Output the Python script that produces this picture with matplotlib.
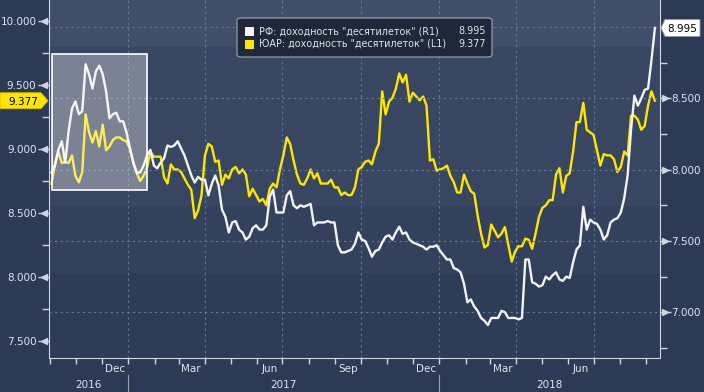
import numpy as np
import pandas as pd
import matplotlib
matplotlib.use("Agg")
import matplotlib.pyplot as plt
import matplotlib.dates as mdates
import matplotlib.ticker as mticker
import matplotlib.transforms as mtransforms
from matplotlib.patches import Rectangle, FancyBboxPatch, Polygon

# 10y yields, every 4 days
dates = pd.date_range("2016-10-03", periods=178, freq="4D")

sa_yield = [
    8.73, 8.88, 8.98, 8.89, 8.90, 8.89, 8.95, 8.79, 8.74, 8.82,
    9.27, 9.13, 9.05, 9.14, 9.02, 9.19, 8.99, 9.02, 9.07, 9.09,
    9.09, 9.07, 9.06, 9.00, 8.89, 8.81, 8.75, 8.79, 8.85, 8.98,
    8.94, 8.94, 8.94, 8.78, 8.73, 8.88, 8.84, 8.84, 8.82, 8.77,
    8.72, 8.68, 8.46, 8.52, 8.64, 8.95, 9.04, 9.02, 8.90, 8.91,
    8.72, 8.80, 8.77, 8.84, 8.86, 8.81, 8.84, 8.80, 8.63, 8.69,
    8.64, 8.59, 8.61, 8.56, 8.69, 8.73, 8.70, 8.84, 8.95, 9.09,
    9.04, 8.91, 8.80, 8.73, 8.72, 8.77, 8.84, 8.77, 8.81, 8.73,
    8.73, 8.73, 8.76, 8.70, 8.70, 8.64, 8.66, 8.64, 8.64, 8.70,
    8.84, 8.86, 8.90, 8.91, 8.88, 8.98, 9.04, 9.45, 9.27, 9.37,
    9.40, 9.47, 9.59, 9.52, 9.58, 9.37, 9.44, 9.41, 9.38, 9.41,
    9.34, 8.91, 8.92, 8.83, 8.84, 8.85, 8.87, 8.79, 8.74, 8.66,
    8.66, 8.80, 8.73, 8.67, 8.65, 8.48, 8.34, 8.23, 8.25, 8.41,
    8.36, 8.31, 8.34, 8.39, 8.25, 8.12, 8.20, 8.24, 8.24, 8.30,
    8.29, 8.22, 8.34, 8.47, 8.54, 8.56, 8.60, 8.60, 8.80, 8.85,
    8.66, 8.79, 8.81, 8.98, 9.21, 9.21, 9.36, 9.15, 9.13, 9.11,
    8.99, 8.87, 8.96, 8.95, 8.95, 8.92, 8.82, 8.86, 8.98, 8.95,
    9.26, 9.26, 9.23, 9.15, 9.18, 9.34, 9.45, 9.377,
]

rf_yield = [
    7.98, 8.03, 8.14, 8.20, 8.05, 8.27, 8.43, 8.48, 8.39, 8.41,
    8.74, 8.67, 8.57, 8.69, 8.73, 8.67, 8.55, 8.36, 8.39, 8.40,
    8.34, 8.34, 8.26, 8.15, 8.05, 7.98, 7.98, 8.03, 8.10, 8.14,
    8.03, 8.01, 8.05, 8.08, 8.17, 8.16, 8.17, 8.20, 8.15, 8.10,
    8.03, 7.96, 7.91, 7.95, 7.93, 7.93, 7.82, 7.90, 7.96, 7.89,
    7.72, 7.67, 7.56, 7.63, 7.64, 7.58, 7.56, 7.51, 7.53, 7.59,
    7.61, 7.58, 7.58, 7.61, 7.81, 7.86, 7.70, 7.70, 7.70, 7.82,
    7.85, 7.75, 7.73, 7.75, 7.74, 7.75, 7.76, 7.61, 7.63, 7.63,
    7.63, 7.64, 7.63, 7.63, 7.47, 7.42, 7.42, 7.43, 7.44, 7.48,
    7.56, 7.51, 7.50, 7.45, 7.39, 7.43, 7.44, 7.49, 7.53, 7.54,
    7.51, 7.56, 7.60, 7.55, 7.56, 7.51, 7.49, 7.48, 7.47, 7.46,
    7.44, 7.46, 7.46, 7.47, 7.43, 7.40, 7.37, 7.37, 7.31, 7.30,
    7.28, 7.20, 7.07, 7.09, 7.04, 7.01, 6.96, 6.94, 6.91, 6.96,
    6.96, 6.96, 7.01, 7.00, 6.96, 6.96, 6.96, 6.95, 6.96, 7.37,
    7.37, 7.21, 7.20, 7.18, 7.19, 7.25, 7.23, 7.26, 7.28, 7.23,
    7.22, 7.25, 7.24, 7.35, 7.44, 7.47, 7.74, 7.58, 7.65, 7.63,
    7.62, 7.58, 7.51, 7.54, 7.63, 7.65, 7.66, 7.70, 7.80, 7.96,
    8.28, 8.52, 8.45, 8.50, 8.56, 8.57, 8.77, 8.995,
]

sa_label = 'ЮАР: доходность "десятилеток" (L1)'
rf_label = 'РФ: доходность "десятилеток" (R1)'

left_ticks = [7.5, 8.0, 8.5, 9.0, 9.5, 10.0]
right_ticks = [7.0, 7.5, 8.0, 8.5, 9.0]
month_pos = ["2016-12-16", "2017-03-16", "2017-06-16", "2017-09-16",
             "2017-12-16", "2018-03-16", "2018-06-16"]
month_names = ["Dec", "Mar", "Jun", "Sep", "Dec", "Mar", "Jun"]
year_pos = ["2016-11-15", "2017-07-02", "2018-05-10"]
year_names = ["2016", "2017", "2018"]
year_starts = ["2017-01-01", "2018-01-01"]
quarter_starts = ["2017-01-01", "2017-04-01", "2017-07-01", "2017-10-01",
                  "2018-01-01", "2018-04-01", "2018-07-01"]

BG = "#2d3a55"
YELLOW = "#ffe600"
WHITE = "#f4f4f4"
TXT = "#dde5ee"
SPINE = "#cfd6df"
GRID = "#5f7d92"
W, H = 704, 392

fig = plt.figure(figsize=(W / 100, H / 100), dpi=100, facecolor=BG)
ax = fig.add_axes([49 / W, 34 / H, 611 / W, 358 / H])
ax.set_facecolor(BG)

# stepped background like the terminal chart
bands = [(0.0, 0.237, "#2f3c57"), (0.237, 0.425, "#34415c"),
         (0.425, 0.869, "#394661"), (0.869, 1.0, "#414e69")]
for y0, y1, c in bands:
    ax.add_patch(Rectangle((0, y0), 1, y1 - y0, transform=ax.transAxes,
                           facecolor=c, edgecolor="none", zorder=0))

ax2 = ax.twinx()

for d in quarter_starts:
    ax.axvline(pd.Timestamp(d), color=GRID, ls=(0, (2, 3)), lw=0.8, zorder=1)

ax2.set_axisbelow(True)
ax2.grid(axis="y", color=GRID, ls=(0, (2, 3)), lw=0.8)

ax.plot(dates, sa_yield, color=YELLOW, lw=1.7, zorder=3)
ax2.plot(dates, rf_yield, color=WHITE, lw=1.7, zorder=3)

ax.set_xlim(pd.Timestamp("2016-09-30"), pd.Timestamp("2018-09-17"))
ax.set_ylim(7.367, 10.164)
ax2.set_ylim(6.679, 9.191)

# highlighted window at the start
x0 = mdates.date2num(pd.Timestamp("2016-10-04"))
x1 = mdates.date2num(pd.Timestamp("2017-01-23"))
ax2.add_patch(Rectangle((x0, 8.68), x1 - x0, 9.742 - 8.68, transform=ax.transData,
                        facecolor="white", alpha=0.33, edgecolor="none", zorder=6))
ax2.add_patch(Rectangle((x0, 8.68), x1 - x0, 9.742 - 8.68, transform=ax.transData,
                        facecolor="none", edgecolor="white", lw=1.2, zorder=7))

# spines
for s in ["top", "right"]:
    ax.spines[s].set_visible(False)
for s in ["top", "left", "bottom"]:
    ax2.spines[s].set_visible(False)
ax.spines["left"].set_color(SPINE)
ax.spines["bottom"].set_color(SPINE)
ax2.spines["right"].set_color(SPINE)

# y axes
ax.yaxis.set_major_locator(mticker.FixedLocator(left_ticks))
ax.yaxis.set_major_formatter(mticker.FormatStrFormatter("%.3f"))
ax.yaxis.set_minor_locator(mticker.MultipleLocator(0.25))
ax.tick_params(axis="y", which="major", length=8, width=1, color=SPINE,
               labelcolor=TXT, labelsize=7.5, pad=1)
ax.tick_params(axis="y", which="minor", length=5, width=1, color=SPINE)

ax2.yaxis.set_major_locator(mticker.FixedLocator(right_ticks))
ax2.yaxis.set_major_formatter(mticker.FuncFormatter(
    lambda v, p: "" if v > 8.9 else f"{v:.3f}"))
ax2.yaxis.set_minor_locator(mticker.MultipleLocator(0.25))
ax2.tick_params(axis="y", which="major", length=8, width=1, color=SPINE,
                labelcolor=TXT, labelsize=7.5, pad=0)
ax2.tick_params(axis="y", which="minor", length=5, width=1, color=SPINE)

# arrow heads on the major ticks
lt = mtransforms.offset_copy(ax.get_yaxis_transform(), fig=fig, x=-5, y=0, units="dots")
ax.plot([0] * len(left_ticks), left_ticks, ls="none", marker="<", ms=4,
        color=SPINE, transform=lt, clip_on=False)
rt = mtransforms.offset_copy(ax2.get_yaxis_transform(), fig=fig, x=5, y=0, units="dots")
ax2.plot([1] * len(right_ticks[:-1]), right_ticks[:-1], ls="none", marker=">", ms=4,
         color=SPINE, transform=rt, clip_on=False)

# x axis
ax.xaxis.set_major_locator(mticker.FixedLocator(mdates.date2num(pd.to_datetime(month_pos))))
ax.xaxis.set_major_formatter(mticker.FixedFormatter(month_names))
ax.xaxis.set_minor_locator(mdates.MonthLocator())
ax.tick_params(axis="x", which="major", length=0, labelcolor=TXT, labelsize=7.5, pad=4)
ax.tick_params(axis="x", which="minor", length=4, width=1, color=SPINE)

xt = ax.get_xaxis_transform()
for d, t in zip(year_pos, year_names):
    ax.text(pd.Timestamp(d), -0.075, t, transform=xt, ha="center", va="center",
            color=TXT, fontsize=7.5)
for d in year_starts:
    ax.plot([pd.Timestamp(d)] * 2, [-0.047, -0.1], transform=xt, clip_on=False,
            color="#9aa4b0", lw=0.8)

# last-value tags (drawn in figure pixels at the height of the last point)
yl = ax.transData.transform((0, sa_yield[-1]))[1]
yr = ax2.transData.transform((0, rf_yield[-1]))[1]
left_tag = [(0, yl - 8), (41, yl - 8), (48, yl), (41, yl + 8), (0, yl + 8)]
right_tag = [(661, yr), (665, yr - 8.5), (700, yr - 8.5), (700, yr + 8.5), (665, yr + 8.5)]
fig.add_artist(Polygon([(x / W, y / H) for x, y in left_tag], closed=True,
                       transform=fig.transFigure, fc=YELLOW, ec="#cbb800", lw=0.6))
fig.add_artist(Polygon([(x / W, y / H) for x, y in right_tag], closed=True,
                       transform=fig.transFigure, fc="white", ec="#999999", lw=0.6))
fig.text(23 / W, yl / H, f"{sa_yield[-1]:.3f}", ha="center", va="center_baseline",
         fontsize=7.5, color="black")
fig.text(682.5 / W, yr / H, f"{rf_yield[-1]:.3f}", ha="center", va="center_baseline",
         fontsize=7.5, color="black")

# legend box
fig.add_artist(FancyBboxPatch((237 / W, 1 - 57 / H), 255 / W, 39 / H,
                              boxstyle="round,pad=0,rounding_size=0.006",
                              transform=fig.transFigure, fc="#1f2738", ec="#a0a8b4", lw=0.8))
rows = [(rf_label, rf_yield[-1], WHITE, 31.5), (sa_label, sa_yield[-1], YELLOW, 44)]
for lab, val, col, yc in rows:
    fig.add_artist(Rectangle((245 / W, 1 - (yc + 4.5) / H), 9 / W, 9 / H,
                             transform=fig.transFigure, fc=col, ec="none"))
    fig.text(259 / W, 1 - yc / H, lab, va="center", ha="left", fontsize=6.9, color=TXT)
    fig.text(486 / W, 1 - yc / H, f"{val:.3f}", va="center", ha="right",
             fontsize=6.9, color=TXT)

fig.savefig("out.png", dpi=100, facecolor=BG)
